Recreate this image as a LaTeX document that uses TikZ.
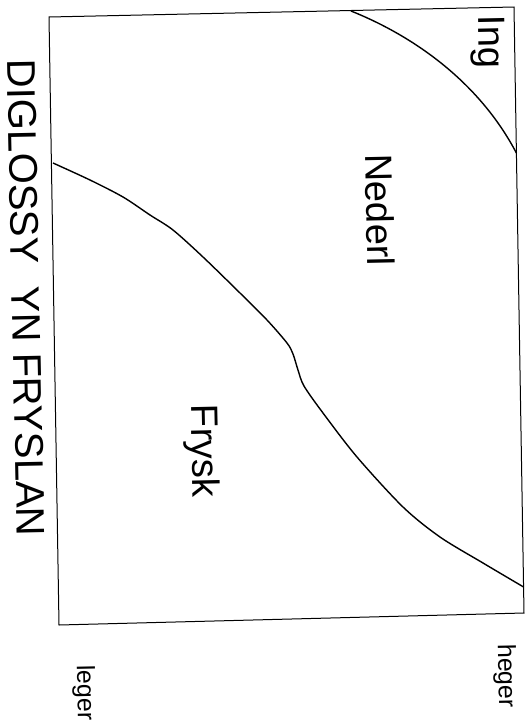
\documentclass[tikz,border=0pt]{standalone}
\usepackage{fontspec}
\setmainfont{Liberation Sans}
\tikzset{
  chartbox/.style={draw=black, line width=1pt, line join=miter},
  bound/.style={black, line width=1.4pt},
  regionlab/.style={font=\fontsize{38}{38}\selectfont, rotate=-88.8, inner sep=0pt},
  endlab/.style={font=\fontsize{25}{25}\selectfont, rotate=-88.8, inner sep=0pt},
  titlelab/.style={font=\fontsize{40}{40}\selectfont, rotate=-88.8, inner sep=0pt}
}
\begin{document}
\begin{tikzpicture}[x=1pt,y=-1pt]
  \useasboundingbox (0,0) rectangle (532,724);
  % frame (scan is a little tilted)
  \coordinate (tl) at (49,17);
  \coordinate (tr) at (514,7);
  \coordinate (br) at (524,613);
  \coordinate (bl) at (59,625);
  \draw[chartbox] (tl) -- (tr) -- (br) -- (bl) -- cycle;
  % Frysk / Nederl
  \draw[bound] plot[smooth, tension=0.5] coordinates {
    (53,163) (90,180) (123,197) (150,215) (173,230) (203,257) (240,293)
    (267,320) (287,343) (293,354) (298,370) (304,386) (323,413)
    (357,457) (403,507) (440,537) (483,563) (523.6,587)};
  % Nederl / Ing
  \draw[bound] (351,11) .. controls (411,35) and (478,80) .. (516.4,153);
  \node[titlelab] (title) at (26,298) {DIGLOSSY\ \ YN FRYSLAN};
  \node[regionlab] (ing) at (488,42) {Ing};
  \node[regionlab] (nederl) at (380,210) {Nederl};
  \node[regionlab] (frysk) at (202,451) {Frysk};
  \node[endlab] (leger) at (84,693) {leger};
  \node[endlab] (heger) at (505,676) {heger};
\end{tikzpicture}
\end{document}
